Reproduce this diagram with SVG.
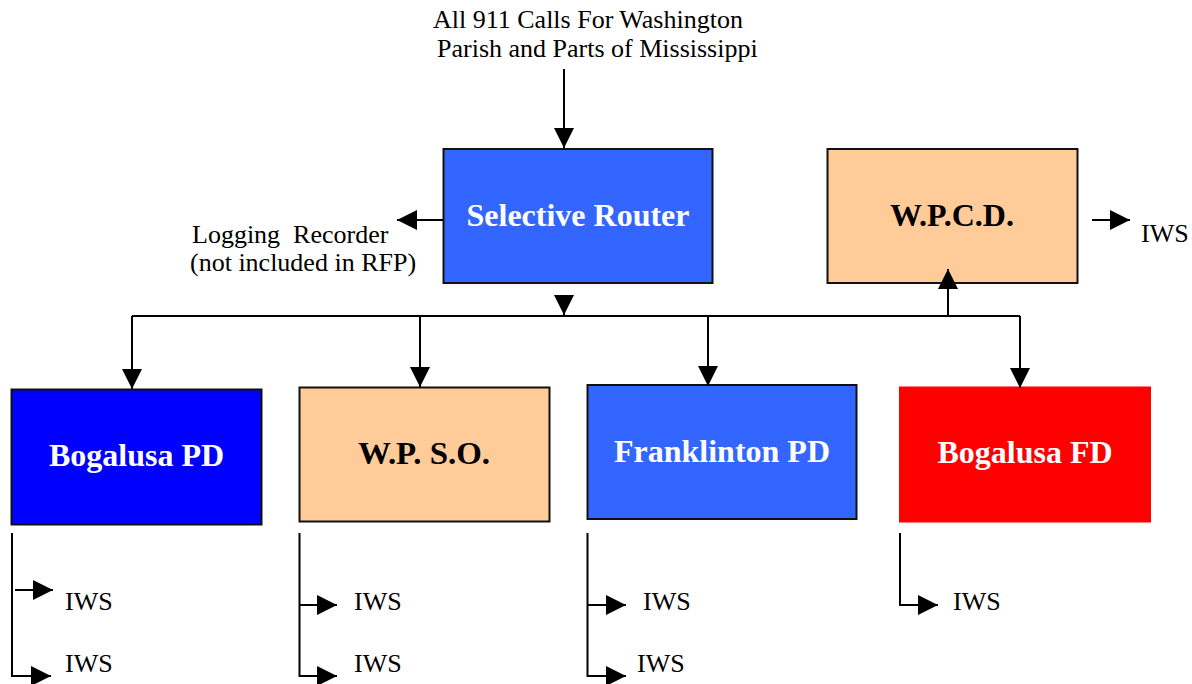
<svg xmlns="http://www.w3.org/2000/svg" width="1192" height="684" viewBox="0 0 1192 684">
<style>
text{font-family:"Liberation Serif",serif}
.t{font-size:26px;fill:#000}
.b{font-size:32px;font-weight:bold;text-anchor:middle}
.w{fill:#fff}
.k{fill:#000}
.box{stroke:#111;stroke-width:2}
.ln{fill:none;stroke:#000;stroke-width:2}
</style>
<defs>
<marker id="ah" viewBox="0 0 20 20" refX="20" refY="10" markerWidth="20" markerHeight="20" markerUnits="userSpaceOnUse" orient="auto">
<path d="M0,0 L20,10 L0,20 Z" fill="#000"/>
</marker>
</defs>
<rect width="1192" height="684" fill="#fff"/>
<g id="title">
<text class="t" x="433" y="28" font-family="Liberation Serif">All 911 Calls For Washington</text>
<text class="t" x="437" y="57" font-family="Liberation Serif">Parish and Parts of Mississippi</text>
</g>
<g id="logging">
<text class="t" x="192" y="243" xml:space="preserve">Logging  Recorder</text>
<text class="t" x="190" y="271">(not included in RFP)</text>
</g>
<g id="router">
<rect class="box" x="443.5" y="149" width="269" height="134" fill="#3366FF"/>
<text class="b w" x="578" y="226">Selective Router</text>
</g>
<g id="wpcd">
<rect class="box" x="827.5" y="149" width="250" height="134" fill="#FFCC99"/>
<text class="b k" x="952" y="226">W.P.C.D.</text>
</g>
<g id="bogalusa-pd">
<rect class="box" x="11.5" y="389.5" width="250" height="135" fill="#0000FF"/>
<text class="b w" x="136.5" y="466">Bogalusa PD</text>
</g>
<g id="wpso">
<rect class="box" x="299.5" y="387.5" width="250" height="134" fill="#FFCC99"/>
<text class="b k" x="424" y="464" textLength="132" lengthAdjust="spacingAndGlyphs">W.P. S.O.</text>
</g>
<g id="franklinton-pd">
<rect class="box" x="587.5" y="385" width="269" height="134" fill="#3366FF"/>
<text class="b w" x="722" y="462">Franklinton PD</text>
</g>
<g id="bogalusa-fd">
<rect x="899" y="386.5" width="252" height="136" fill="#FF0000"/>
<text class="b w" x="1025" y="463">Bogalusa FD</text>
</g>
<g id="iws-labels">
<text class="t" x="1141" y="242">IWS</text>
<text class="t" x="65" y="610">IWS</text>
<text class="t" x="65" y="672">IWS</text>
<text class="t" x="354" y="610">IWS</text>
<text class="t" x="354" y="672">IWS</text>
<text class="t" x="643" y="610">IWS</text>
<text class="t" x="637" y="672">IWS</text>
<text class="t" x="953" y="610">IWS</text>
</g>
<g id="connectors">
<path class="ln" d="M564,69 V148" marker-end="url(#ah)"/>
<path class="ln" d="M443,220 H397" marker-end="url(#ah)"/>
<path class="ln" d="M564,296 V315" marker-end="url(#ah)"/>
<path class="ln" d="M132,316 H1020"/>
<path class="ln" d="M132,316 V389" marker-end="url(#ah)"/>
<path class="ln" d="M420,316 V387" marker-end="url(#ah)"/>
<path class="ln" d="M708,316 V386" marker-end="url(#ah)"/>
<path class="ln" d="M1020,316 V388" marker-end="url(#ah)"/>
<path class="ln" d="M948,316 V269" marker-end="url(#ah)"/>
<path class="ln" d="M1092,220 H1130" marker-end="url(#ah)"/>
<path class="ln" d="M12,533 V676 H51" marker-end="url(#ah)"/>
<path class="ln" d="M15,590 H53" marker-end="url(#ah)"/>
<path class="ln" d="M299.5,533 V676 H337" marker-end="url(#ah)"/>
<path class="ln" d="M299.5,605 H337" marker-end="url(#ah)"/>
<path class="ln" d="M587.5,533 V676 H626" marker-end="url(#ah)"/>
<path class="ln" d="M587.5,605 H626" marker-end="url(#ah)"/>
<path class="ln" d="M900,533 V605 H938" marker-end="url(#ah)"/>
</g>
</svg>
